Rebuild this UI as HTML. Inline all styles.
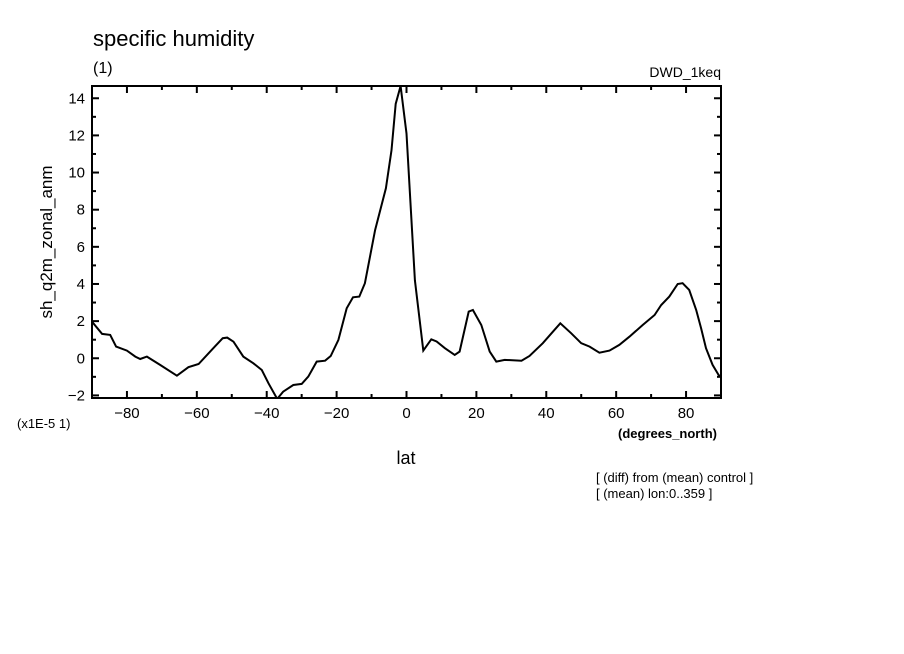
<!DOCTYPE html>
<html><head><meta charset="utf-8"><style>
html,body{margin:0;padding:0;background:#fff;}
svg{display:block;font-family:"Liberation Sans",sans-serif;}
</style></head><body>
<svg id="chart" width="904" height="654" viewBox="0 0 904 654" xmlns="http://www.w3.org/2000/svg">
<rect width="904" height="654" fill="#fff"/>
<text x="93" y="46" font-size="22">specific humidity</text>
<text x="93" y="73" font-size="16">(1)</text>
<text x="721" y="77" font-size="14" text-anchor="end">DWD_1keq</text>
<text transform="translate(52,242) rotate(-90)" font-size="17" text-anchor="middle">sh_q2m_zonal_anm</text>
<text x="406" y="464" font-size="18" text-anchor="middle">lat</text>
<text x="17" y="428" font-size="13">(x1E-5 1)</text>
<text x="618" y="438" font-size="13" font-weight="bold">(degrees_north)</text>
<text x="596" y="482" font-size="13">[ (diff) from (mean) control ]</text>
<text x="596" y="498" font-size="13">[ (mean) lon:0..359 ]</text>
<defs><clipPath id="pc"><rect x="92" y="86" width="629" height="312"/></clipPath></defs>
<g id="axes"></g>
<path id="line" fill="none" stroke="#000" stroke-width="2" clip-path="url(#pc)"/>
<rect x="92" y="86" width="629" height="312" fill="none" stroke="#000" stroke-width="2"/>
</svg>
<script>
const lats=[-90,-87.1,-84.8,-83.1,-80,-77.6,-76.2,-74.3,-70.5,-65.7,-62.4,-59.5,-55.3,-52.6,-51.3,-49.5,-46.7,-43.8,-41.4,-39.5,-37,-35.3,-32.4,-30,-28.1,-25.7,-23.3,-21.7,-19.5,-17.1,-15.3,-13.5,-11.9,-9,-5.9,-4.3,-3.1,-1.7,0,2.4,4.8,7.1,8.6,11,13.8,15.2,17.8,19,21.4,23.8,25.7,28.1,32.9,35.2,39,41.9,44,47.1,50,52.4,55.2,58.1,60.9,63.8,67.6,71,72.9,75.2,77.6,79,80.9,82.9,84.3,85.7,87.6,89.3,90];
const values=[1.97,1.31,1.26,0.63,0.41,0.09,-0.04,0.09,-0.36,-0.94,-0.48,-0.31,0.54,1.08,1.11,0.89,0.09,-0.27,-0.63,-1.35,-2.19,-1.8,-1.44,-1.38,-0.99,-0.18,-0.13,0.12,0.99,2.69,3.28,3.32,4.04,6.9,9.15,11.2,13.7,14.66,12.1,4.2,0.41,1.02,0.9,0.54,0.18,0.36,2.51,2.6,1.79,0.36,-0.18,-0.09,-0.13,0.12,0.81,1.43,1.88,1.35,0.81,0.63,0.3,0.41,0.72,1.16,1.79,2.33,2.87,3.32,4.0,4.04,3.68,2.6,1.62,0.54,-0.36,-0.9,-1.0];
const xTickLabels=[-80,-60,-40,-20,0,20,40,60,80];
const yTickLabels=[-2,0,2,4,6,8,10,12,14];
const X0=92,X1=721,Y0=86,Y1=398,latMin=-90,latMax=90,vMin=-2.14,vMax=14.66;
const sx=v=>X0+(v-latMin)/(latMax-latMin)*(X1-X0);
const sy=v=>Y1-(v-vMin)/(vMax-vMin)*(Y1-Y0);
const NS='http://www.w3.org/2000/svg';
const ax=document.getElementById('axes');
function ln(x1,y1,x2,y2,name){const l=document.createElementNS(NS,'line');l.setAttribute('x1',x1);l.setAttribute('y1',y1);l.setAttribute('x2',x2);l.setAttribute('y2',y2);l.setAttribute('stroke','#000');l.setAttribute('stroke-width','2');


ax.appendChild(l);}
function tx(x,y,s,anchor,name){const t=document.createElementNS(NS,'text');t.setAttribute('x',x);t.setAttribute('y',y);t.setAttribute('font-size','15');t.setAttribute('text-anchor',anchor);t.textContent=s;


ax.appendChild(t);}
for(let v=-80;v<=80;v+=10){const x=sx(v),L=(v%20===0)?7:4;ln(x,Y1,x,Y1-L,'x-tick');ln(x,Y0,x,Y0+L,'x-tick-top');}
xTickLabels.forEach(v=>tx(sx(v),418,String(v).replace('-','\u2212'),'middle','x-tick-label'));
for(let v=-2;v<=14;v+=1){const y=sy(v),L=(v%2===0)?7:4;ln(X0,y,X0+L,y,'y-tick');ln(X1,y,X1-L,y,'y-tick-right');}
yTickLabels.forEach(v=>tx(85,sy(v)+5,String(v).replace('-','\u2212'),'end','y-tick-label'));
document.getElementById('line').setAttribute('d',lats.map((v,i)=>(i?'L':'M')+sx(v).toFixed(1)+' '+sy(values[i]).toFixed(1)).join(' '));
</script>
</body></html>
